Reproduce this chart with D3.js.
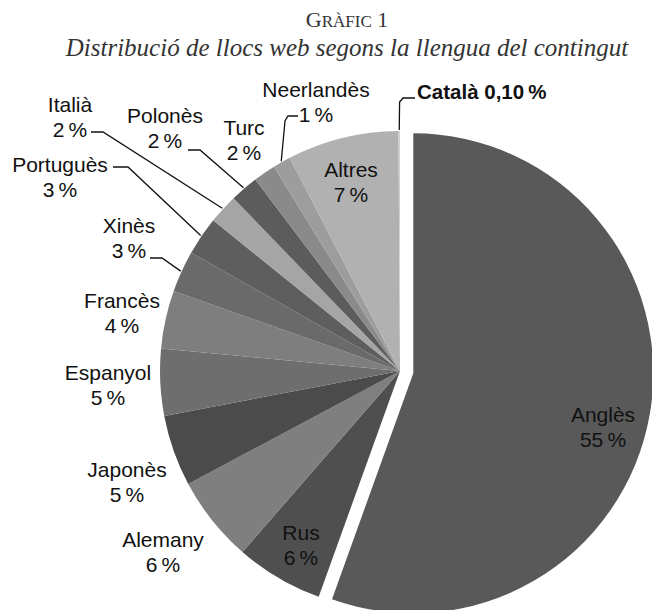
<html>
<head>
    <meta charset="utf-8">
    <script src="https://d3js.org/d3.v7.min.js"></script>
    <style>
        body { margin: 0; background: #fff; }
        text { font-family: "Liberation Sans", Arial, sans-serif; }
    </style>
</head>

<body>
    <svg id="chart"></svg>

    <script>
        // values, clockwise from 12 o'clock
        var languages = ["Anglès", "Rus", "Alemany", "Japonès", "Espanyol", "Francès", "Xinès",
                         "Portuguès", "Italià", "Polonès", "Turc", "Neerlandès", "Altres", "Català"];
        var shares = [55.5, 5.9, 5.8, 4.8, 4.5, 3.9, 2.8, 2.6, 2.0, 1.9, 1.5, 1.2, 7.5, 0.1];
        var shareLabels = ["55\u2009%", "6\u2009%", "6\u2009%", "5\u2009%", "5\u2009%", "4\u2009%", "3\u2009%",
                           "3\u2009%", "2\u2009%", "2\u2009%", "2\u2009%", "1\u2009%", "7\u2009%", "0,10\u2009%"];
        var greys = ["#595959", "#4f4f4f", "#7f7f7f", "#4b4b4b", "#6e6e6e", "#7e7e7e", "#6a6a6a",
                     "#5e5e5e", "#a5a5a5", "#5c5c5c", "#8a8a8a", "#9d9d9d", "#b1b1b1", "#d0d0d0"];

        var W = 652, H = 610;
        var cx = 400, cy = 371, R = 240;
        var explode = 13.5;

        // where each label sits (first-line baseline) and its leader, if any
        var layout = {
            "Anglès":     { x: 603, y: 422 },
            "Rus":        { x: 301, y: 540 },
            "Alemany":    { x: 163, y: 547 },
            "Japonès":    { x: 127, y: 477 },
            "Espanyol":   { x: 108, y: 380 },
            "Francès":    { x: 122, y: 308 },
            "Xinès":      { x: 129, y: 233, lead: [[150, 258], [162, 258]] },
            "Portuguès":  { x: 60,  y: 172, lead: [[113, 167], [128, 167]] },
            "Italià":     { x: 70,  y: 112, lead: [[91, 132], [103, 132]] },
            "Polonès":    { x: 165, y: 123, lead: [[188, 150], [200, 150]] },
            "Turc":       { x: 244, y: 135 },
            "Neerlandès": { x: 316, y: 97,  lead: [[298, 116], [288, 116], [285, 121]] },
            "Altres":     { x: 351, y: 177 },
            "Català":     { x: 417, y: 99, single: true, lead: [[415, 98], [403, 98], [399.6, 102]] }
        };

        var svg = d3.select("#chart").attr("width", W).attr("height", H);

        // title
        var t1 = svg.append("text")
            .attr("x", 347).attr("y", 27)
            .attr("text-anchor", "middle")
            .style("font-family", "'Liberation Serif', serif")
            .attr("fill", "#333");
        t1.append("tspan").attr("font-size", 22).text("G");
        t1.append("tspan").attr("font-size", 17).text("RÀFIC");
        t1.append("tspan").attr("font-size", 22).text(" 1");

        svg.append("text")
            .attr("x", 347).attr("y", 56)
            .attr("text-anchor", "middle")
            .style("font-family", "'Liberation Serif', serif")
            .attr("font-style", "italic")
            .attr("font-size", 25)
            .attr("fill", "#333")
            .text("Distribució de llocs web segons la llengua del contingut");

        var rows = languages.map(function(d, i) {
            return { lang: d, value: shares[i], label: shareLabels[i], color: greys[i] };
        });

        var pie = d3.pie().sort(null).value(function(d) { return d.value; });
        var arcs = pie(rows);
        var arc = d3.arc().innerRadius(0).outerRadius(R);

        var g = svg.append("g").attr("transform", "translate(" + cx + "," + cy + ")");

        g.selectAll("path.slice")
            .data(arcs)
            .enter()
            .append("path").classed("slice", true)
            .attr("d", arc)
            .attr("fill", function(d) { return d.data.color; })
            .attr("transform", function(d, i) {
                if (i !== 0) return null;
                var a = (d.startAngle + d.endAngle) / 2;
                return "translate(" + (Math.sin(a) * explode) + "," + (-Math.cos(a) * explode) + ")";
            });

        // leader lines: from label elbow to the outer edge at the slice mid-angle
        arcs.forEach(function(d) {
            var L = layout[d.data.lang];
            if (!L.lead) return;
            var a = (d.startAngle + d.endAngle) / 2;
            var end = [cx + Math.sin(a) * (R + 1), cy - Math.cos(a) * (R + 1)];
            var pts = L.lead.concat([end]);
            svg.append("path")
                .attr("d", d3.line()(pts))
                .attr("fill", "none")
                .attr("stroke", "#111")
                .attr("stroke-width", 1.3);
        });

        arcs.forEach(function(d) {
            var L = layout[d.data.lang];
            if (L.single) {
                svg.append("text")
                    .attr("x", L.x).attr("y", L.y)
                    .attr("font-size", 20.5)
                    .attr("font-weight", "bold")
                    .attr("fill", "#111")
                    .text(d.data.lang + " " + d.data.label);
                return;
            }
            var t = svg.append("text")
                .attr("text-anchor", "middle")
                .attr("font-size", 21)
                .attr("fill", "#111");
            t.append("tspan").attr("x", L.x).attr("y", L.y).text(d.data.lang);
            t.append("tspan").attr("x", L.x).attr("y", L.y + 25).text(d.data.label);
        });
    </script>
</body>
</html>
